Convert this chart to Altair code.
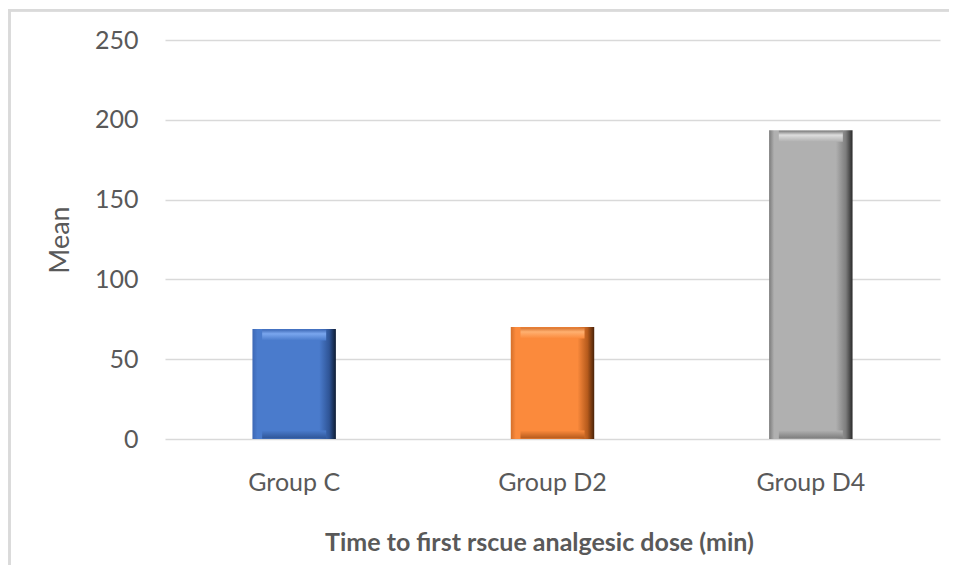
import altair as alt
import pandas as pd

groups = ["Group C", "Group D2", "Group D4"]
means = [69.0, 70.2, 193.5]
y_ticks = [0, 50, 100, 150, 200, 250]
x_title = "Time to first rscue analgesic dose (min)"
y_title = "Mean"

# bevel-like colours per group: (left edge, face, right shade, right edge, top light)
palette = {
    "Group C": ("#3d68b5", "#4a7bcc", "#2f5597", "#0e1c33", "#7aa6ee"),
    "Group D2": ("#d46f2a", "#fb8a3c", "#b55a1c", "#4a2208", "#ffb070"),
    "Group D4": ("#7a7a7a", "#b0b0b0", "#7d7d7d", "#2a2a2a", "#dedede"),
}

df = pd.DataFrame({"group": groups, "mean": means})

FONT = "Lato"
TXT = "#595959"
GRID = "#d9d9d9"

x_enc = alt.X(
    "group:N",
    sort=groups,
    scale=alt.Scale(paddingInner=0.677, paddingOuter=0.3385),
    axis=alt.Axis(
        title=x_title,
        labelAngle=0,
        labelFont=FONT,
        labelFontSize=25,
        labelColor=TXT,
        labelPadding=31,
        domain=False,
        ticks=False,
        grid=False,
        titleFont=FONT,
        titleFontSize=25,
        titleFontWeight="bold",
        titleColor=TXT,
        titleX=374,
        titleY=91,
        titleBaseline="top",
        titleAlign="center",
    ),
)
y_enc = alt.Y(
    "mean:Q",
    scale=alt.Scale(domain=[0, 250], nice=False),
    axis=alt.Axis(
        title=y_title,
        values=y_ticks,
        labelFont=FONT,
        labelFontSize=25,
        labelColor=TXT,
        labelPadding=27,
        domain=False,
        ticks=False,
        grid=True,
        gridColor=GRID,
        gridWidth=1.5,
        titleFont=FONT,
        titleFontSize=27,
        titleFontWeight="normal",
        titleColor=TXT,
        titleX=-105,
        titleY=199.5,
        titleAngle=-90,
        titleBaseline="middle",
        titleAlign="center",
    ),
)

layers = []
for g in groups:
    le, fc, rs, re, tl = palette[g]
    side = alt.Gradient(
        gradient="linear", x1=0, x2=1, y1=0, y2=0,
        stops=[
            alt.GradientStop(offset=0, color=le),
            alt.GradientStop(offset=0.06, color=fc),
            alt.GradientStop(offset=0.80, color=fc),
            alt.GradientStop(offset=0.92, color=rs),
            alt.GradientStop(offset=1, color=re),
        ],
    )
    top = alt.Gradient(
        gradient="linear", x1=0, x2=0, y1=0, y2=1,
        stops=[
            alt.GradientStop(offset=0, color=le),
            alt.GradientStop(offset=0.4, color=tl),
            alt.GradientStop(offset=1, color=fc),
        ],
    )
    bottom = alt.Gradient(
        gradient="linear", x1=0, x2=0, y1=0, y2=1,
        stops=[
            alt.GradientStop(offset=0, color=fc),
            alt.GradientStop(offset=1, color=rs),
        ],
    )
    base = alt.Chart(df).transform_filter(alt.datum.group == g)
    layers.append(base.mark_bar(color=side).encode(x=x_enc, y=y_enc))
    layers.append(
        base.mark_tick(color=top, thickness=11, size=64, yOffset=6, opacity=1)
        .encode(x=x_enc, y=y_enc)
    )
    layers.append(
        base.mark_tick(color=bottom, thickness=8, size=64, yOffset=-4.5, opacity=1)
        .transform_calculate(zero="0")
        .encode(x=x_enc, y=alt.Y("zero:Q", scale=alt.Scale(domain=[0, 250], nice=False)))
    )

# outer frame of the chart area (its right and bottom edges lie outside the picture)
frame = alt.Chart(df).mark_rect(
    fill=None, filled=False, stroke="#dadada", strokeWidth=2.5
).encode(
    x=alt.value(-155.5), x2=alt.value(1200), y=alt.value(-29.7), y2=alt.value(1200)
)

chart = (
    alt.layer(frame, *layers)
    .properties(
        width=775,
        height=399,
        background="white",
        autosize=alt.AutoSizeParams(type="none"),
        padding={"left": 157, "top": 32, "right": 9, "bottom": 126},
    )
    .configure_view(stroke=None)
)

chart.save("out.html", embed_options={"renderer": "svg", "actions": False})
